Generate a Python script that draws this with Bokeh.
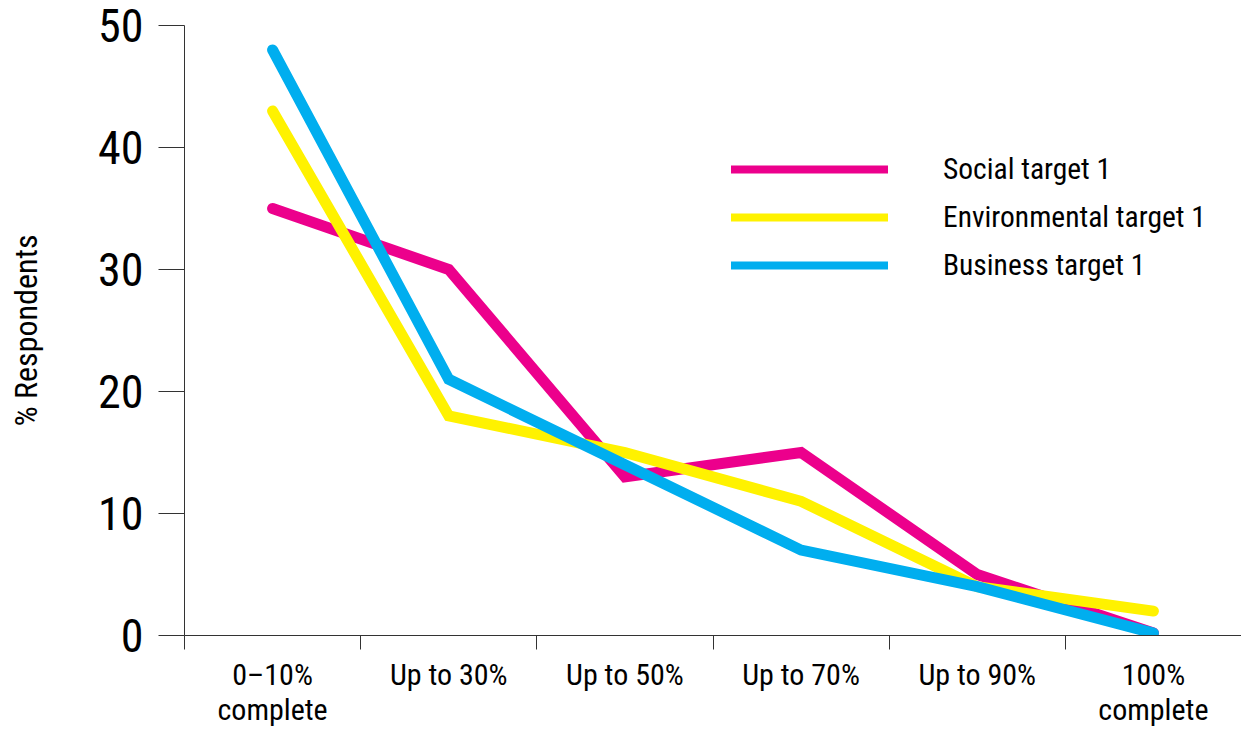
from bokeh.plotting import figure
from bokeh.models import Range1d, FixedTicker, Legend, LegendItem
from bokeh.embed import file_html
from bokeh.resources import INLINE

categories = ["0–10%\ncomplete", "Up to 30%", "Up to 50%", "Up to 70%", "Up to 90%", "100%\ncomplete"]
social = [35, 30, 13, 15, 5, 0.2]
environmental = [43, 18, 15, 11, 4, 2]
business = [48, 21, 14, 7, 4, 0.2]
series_names = ["Social target 1", "Environmental target 1", "Business target 1"]
colors = ["#EC008C", "#FFF200", "#00AEEF"]
y_ticks = [0, 10, 20, 30, 40, 50]

FONT = "Roboto Condensed, DejaVu Sans Condensed, sans-serif"

centers = [i + 0.5 for i in range(len(categories))]
bounds = [float(i) for i in range(len(categories))]

p = figure(width=1241, height=729, output_backend="svg", toolbar_location=None,
           x_range=Range1d(0, len(categories)), y_range=Range1d(0, 50),
           min_border_left=184, min_border_right=0, min_border_top=25, min_border_bottom=93)
p.outline_line_color = None
p.grid.visible = False
p.background_fill_color = "white"
p.border_fill_color = "white"

legend_renderers = []
for vals, col in zip([social, environmental, business], colors):
    p.line(centers, vals, line_color=col, line_width=11, line_cap="round", line_join="miter")
    lr = p.line(centers, vals, line_color=col, line_width=8, line_cap="round", visible=False)
    legend_renderers.append(lr)

# x axis
xa = p.xaxis[0]
xa.ticker = FixedTicker(ticks=centers, minor_ticks=bounds)
xa.major_label_overrides = {c: lab for c, lab in zip(centers, categories)}
xa.major_tick_out = 0
xa.major_tick_in = 0
xa.minor_tick_out = 14
xa.minor_tick_in = 0
xa.minor_tick_line_color = "#333333"
xa.axis_line_color = "#333333"
xa.major_label_standoff = 7
xa.major_label_text_font = FONT
xa.major_label_text_font_size = "30px"
xa.major_label_text_color = "black"
xa.major_label_text_line_height = 1.0

# y axis
ya = p.yaxis[0]
ya.ticker = FixedTicker(ticks=y_ticks, minor_ticks=[])
ya.major_tick_out = 26
ya.major_tick_in = 0
ya.major_tick_line_color = "#333333"
ya.axis_line_color = "#333333"
ya.major_label_standoff = 15
ya.major_label_text_font = FONT
ya.major_label_text_font_size = "46px"
ya.major_label_text_color = "black"
ya.axis_label = "% Respondents"
ya.axis_label_text_font = FONT
ya.axis_label_text_font_size = "32px"
ya.axis_label_text_font_style = "normal"
ya.axis_label_text_color = "black"
ya.axis_label_standoff = 50

legend = Legend(items=[LegendItem(label=n, renderers=[r]) for n, r in zip(series_names, legend_renderers)],
                location=(547, 350), orientation="vertical",
                glyph_width=157, glyph_height=40, label_height=40, label_standoff=55, spacing=8,
                label_text_font=FONT, label_text_font_size="29.5px", label_text_color="black",
                background_fill_alpha=0, border_line_color=None, padding=0, margin=0)
p.add_layout(legend)

open("out.html", "w").write(file_html(p, INLINE))
